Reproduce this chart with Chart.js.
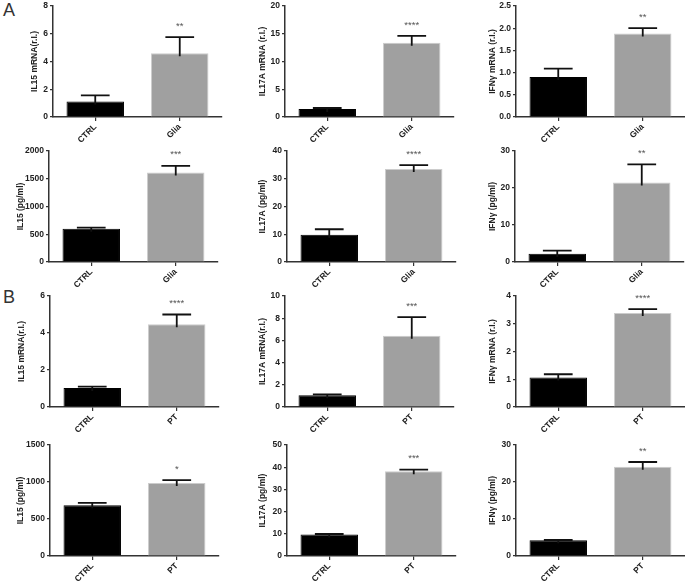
<!DOCTYPE html>
<html lang="en">
<head>
<meta charset="UTF-8">
<title>IL15 / IL17A / IFNγ</title>
<script src="https://cdn.jsdelivr.net/npm/chart.js"></script>
<style>
  body { margin: 0; background: #fff; width: 685px; height: 581px; position: relative; overflow: hidden; font-family: "Liberation Sans", Arial, sans-serif; }
  canvas { position: absolute; }
  .letter { position: absolute; font-size: 18px; color: #333; }
</style>
</head>
<body>
<div class="letter" style="left:3px;top:0px">A</div>
<div class="letter" style="left:3px;top:287px">B</div>
<div id="panels"></div>
<script>
// data, panels in reading order (A: rows 1-2, B: rows 3-4)
const groupsA = ['CTRL', 'Glia'];
const groupsB = ['CTRL', 'PT'];
const titles = [
  'IL15 mRNA(r.I.)', 'IL17A mRNA (r.I.)', 'IFNγ mRNA (r.I.)',
  'IL15 (pg/ml)', 'IL17A (pg/ml)', 'IFNγ (pg/ml)',
  'IL15 mRNA(r.I.)', 'IL17A mRNA(r.I.)', 'IFNγ mRNA (r.I.)',
  'IL15 (pg/ml)', 'IL17A (pg/ml)', 'IFNγ (pg/ml)'
];
const means = [
  [1.12, 4.6], [1.45, 13.4], [0.9, 1.88],
  [600, 1612], [9.8, 33.5], [2.2, 21.5],
  [1.03, 4.47], [1.05, 6.42], [1.06, 3.39],
  [687, 988], [9.7, 38.2], [4.25, 24.1]
];
const sems = [
  [0.44, 1.15], [0.17, 1.2], [0.19, 0.12],
  [20, 120], [2.0, 1.4], [0.9, 4.9],
  [0.07, 0.53], [0.09, 1.68], [0.12, 0.14],
  [31, 37], [0.2, 0.7], [0.08, 1.3]
];
const stars = ['**', '****', '**', '***', '****', '**', '****', '***', '****', '*', '***', '**'];
const yMax = [8, 20, 2.5, 2000, 40, 30, 6, 10, 4, 1500, 50, 30];
const yStep = [2, 5, 0.5, 500, 10, 10, 2, 2, 1, 500, 10, 10];

// layout of the figure
const axisLeft = [53, 285, 516, 49, 287, 515, 50, 285, 516, 50, 287, 516];
const titleX = [35, 263, 493, 21, 263, 493, 22, 263, 493, 21, 263, 493];
const plotTop = [6, 151, 296, 445];
const plotW = 169, plotH = 111;
const yAxisW = 50, xAxisH = 34, padTop = 10, padRight = 4;

Chart.defaults.font.family = '"Liberation Sans", Arial, sans-serif';
Chart.defaults.color = '#222';

const errorBars = {
  id: 'errorBars',
  afterDatasetsDraw(chart) {
    const ctx = chart.ctx;
    const y = chart.scales.y;
    const ds = chart.data.datasets[0];
    const meta = chart.getDatasetMeta(0);
    ctx.save();
    meta.data.forEach((bar, i) => {
      const top = y.getPixelForValue(ds.data[i]);
      const hi = y.getPixelForValue(ds.data[i] + ds.sem[i]);
      const half = bar.width / 4;
      ctx.strokeStyle = '#111';
      ctx.lineWidth = 1.8;
      ctx.beginPath();
      ctx.moveTo(bar.x, top + 3);
      ctx.lineTo(bar.x, hi);
      ctx.moveTo(bar.x - half, hi);
      ctx.lineTo(bar.x + half, hi);
      ctx.stroke();
      if (i === 1) {
        ctx.fillStyle = '#555';
        ctx.font = '9.5px "Liberation Sans", Arial, sans-serif';
        ctx.textAlign = 'center';
        ctx.textBaseline = 'middle';
        ctx.fillText(ds.star, bar.x, hi - 11);
      }
    });
    ctx.restore();
  }
};

const holder = document.getElementById('panels');
titles.forEach((title, p) => {
  const row = Math.floor(p / 3);
  const cv = document.createElement('canvas');
  const w = yAxisW + plotW + padRight, h = padTop + plotH + xAxisH;
  const left = axisLeft[p] - yAxisW;
  cv.width = w; cv.height = h;
  cv.style.left = left + 'px';
  cv.style.top = (plotTop[row] - padTop) + 'px';
  holder.appendChild(cv);

  const step = yStep[p];
  new Chart(cv, {
    type: 'bar',
    data: {
      labels: row < 2 ? groupsA : groupsB,
      datasets: [{
        data: means[p],
        sem: sems[p],
        star: stars[p],
        backgroundColor: ['#000000', '#a0a0a0'],
        borderColor: ['#000000', '#cccccc'],
        borderWidth: 1,
        barPercentage: 0.68,
        categoryPercentage: 1
      }]
    },
    options: {
      responsive: false,
      animation: false,
      layout: { padding: { top: padTop, right: padRight, left: 0, bottom: 0 } },
      plugins: { legend: { display: false }, tooltip: { enabled: false } },
      scales: {
        x: {
          grid: { offset: false, drawOnChartArea: false, drawTicks: true, tickLength: 4, color: '#333', lineWidth: 1.2 },
          border: { display: true, color: '#333', width: 1.5 },
          ticks: { minRotation: 45, maxRotation: 45, padding: 1, font: { size: 8.5, weight: 'bold' }, color: '#222' },
          afterFit(s) { s.height = xAxisH; }
        },
        y: {
          min: 0, max: yMax[p],
          grid: { drawOnChartArea: false, drawTicks: true, tickLength: 3, color: '#333', lineWidth: 1.2 },
          border: { display: true, color: '#333', width: 1.5 },
          ticks: {
            stepSize: step, padding: 2, font: { size: 8.5, weight: 'bold' }, color: '#222',
            callback: v => step < 1 ? v.toFixed(1) : v
          },
          title: {
            display: true, text: title, color: '#222',
            font: { size: 8.5, weight: 'bold' },
            padding: { top: titleX[p] - left - 5.1, bottom: 0 }
          },
          afterFit(s) { s.width = yAxisW; }
        }
      }
    },
    plugins: [errorBars]
  });
});
</script>
</body>
</html>
